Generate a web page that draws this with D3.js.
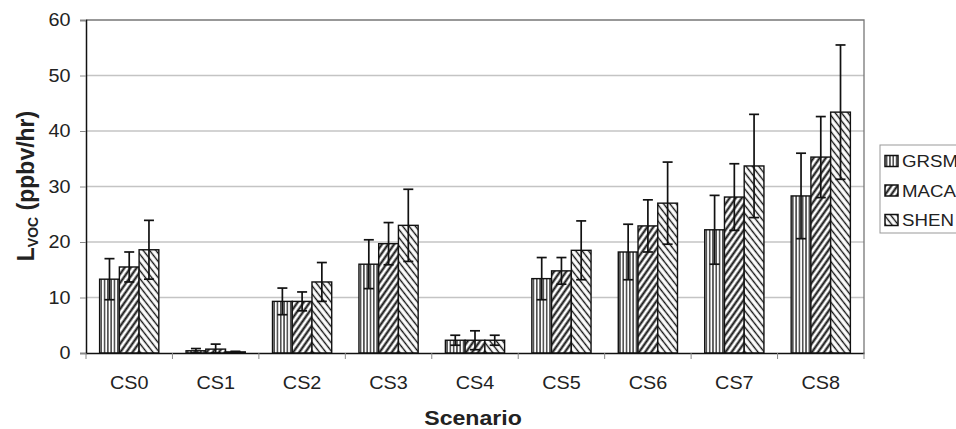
<!DOCTYPE html>
<html>
<head>
<meta charset="utf-8">
<script src="https://cdn.jsdelivr.net/npm/d3@7"></script>
<style>
  body { margin: 0; background: #fff; }
  svg { font-family: "Liberation Sans", Arial, sans-serif; }
</style>
</head>
<body>
<div id="chart"></div>
<script>
const categories = ["CS0", "CS1", "CS2", "CS3", "CS4", "CS5", "CS6", "CS7", "CS8"];
const seriesNames = ["GRSM", "MACA", "SHEN"];
const grsm = [13.3, 0.4, 9.3, 16.0, 2.3, 13.4, 18.2, 22.2, 28.3];
const maca = [15.5, 0.7, 9.3, 19.7, 2.3, 14.8, 22.9, 28.1, 35.3];
const shen = [18.6, 0.2, 12.8, 23.0, 2.3, 18.5, 27.0, 33.7, 43.4];
const grsmErr = [3.7, 0.4, 2.4, 4.4, 0.9, 3.8, 5.0, 6.2, 7.7];
const macaErr = [2.7, 0.9, 1.7, 3.8, 1.7, 2.4, 4.7, 6.0, 7.3];
const shenErr = [5.3, 0.1, 3.5, 6.5, 0.9, 5.3, 7.4, 9.3, 12.1];
const yTicks = [0, 10, 20, 30, 40, 50, 60];

const values = [grsm, maca, shen];
const errors = [grsmErr, macaErr, shenErr];

const width = 956, height = 429;
const margin = { top: 20, right: 92, bottom: 76, left: 86 };
const plotW = width - margin.left - margin.right;
const plotH = height - margin.top - margin.bottom;
const stretch = 'scale(1.1,1)'; // the picture's text is a bit wider than tall

const svg = d3.select('#chart').append('svg')
    .attr('width', width)
    .attr('height', height);

// hatch patterns
const defs = svg.append('defs');
const patternIds = ['pat-grsm', 'pat-maca', 'pat-shen'];

function makePattern(id, size, rotate, strokeW) {
    const p = defs.append('pattern')
        .attr('id', id)
        .attr('patternUnits', 'userSpaceOnUse')
        .attr('width', size)
        .attr('height', size)
        .attr('patternTransform', `rotate(${rotate})`);
    p.append('rect').attr('width', size).attr('height', size).attr('fill', '#fff');
    p.append('line')
        .attr('x1', size / 2).attr('y1', 0)
        .attr('x2', size / 2).attr('y2', size)
        .attr('stroke', '#111')
        .attr('stroke-width', strokeW);
}
makePattern(patternIds[0], 3.3, 0, 1.2);
makePattern(patternIds[1], 5, 35, 2.1);
makePattern(patternIds[2], 5, -38, 1.4);

const g = svg.append('g').attr('transform', `translate(${margin.left},${margin.top})`);

const x0 = d3.scaleBand().domain(categories).range([0, plotW]).paddingInner(0).paddingOuter(0);
const groupW = x0.bandwidth() * 0.685;
const x1 = d3.scaleBand().domain(seriesNames).range([0, groupW]).padding(0);
const y = d3.scaleLinear().domain([0, 60]).range([plotH, 0]);

// gridlines
g.selectAll('.grid')
    .data(yTicks.filter(t => t > 0 && t < 60))
    .enter().append('line')
    .attr('class', 'grid')
    .attr('x1', 0).attr('x2', plotW)
    .attr('y1', d => y(d)).attr('y2', d => y(d))
    .attr('stroke', '#c4c4c4')
    .attr('stroke-width', 1.3);

// plot border (top/right)
g.append('path')
    .attr('d', `M0,0H${plotW}V${plotH}`)
    .attr('fill', 'none')
    .attr('stroke', '#777')
    .attr('stroke-width', 1.3);

// bars
const groups = g.selectAll('.cat')
    .data(categories)
    .enter().append('g')
    .attr('class', 'cat')
    .attr('transform', d => `translate(${x0(d) + (x0.bandwidth() - groupW) / 2},0)`);

seriesNames.forEach((s, si) => {
    groups.append('rect')
        .attr('x', x1(s))
        .attr('y', (d, i) => y(values[si][i]))
        .attr('width', x1.bandwidth())
        .attr('height', (d, i) => plotH - y(values[si][i]))
        .attr('fill', `url(#${patternIds[si]})`)
        .attr('stroke', '#111')
        .attr('stroke-width', 1.4);
});

// error bars
seriesNames.forEach((s, si) => {
    const cx = x1(s) + x1.bandwidth() / 2;
    const hi = (d, i) => y(values[si][i] + errors[si][i]);
    const lo = (d, i) => y(Math.max(0, values[si][i] - errors[si][i]));
    const eb = groups.append('g').attr('class', 'err')
        .attr('stroke', '#111').attr('stroke-width', 1.7);
    eb.append('line').attr('x1', cx).attr('x2', cx).attr('y1', hi).attr('y2', lo);
    eb.append('line').attr('x1', cx - 5).attr('x2', cx + 5).attr('y1', hi).attr('y2', hi);
    eb.append('line').attr('x1', cx - 5).attr('x2', cx + 5).attr('y1', lo).attr('y2', lo);
});

// y axis
const yAxis = g.append('g')
    .call(d3.axisLeft(y).tickValues(yTicks).tickSize(6).tickPadding(8));
yAxis.select('.domain').attr('stroke', '#111').attr('stroke-width', 1.5);
yAxis.selectAll('.tick line').attr('stroke', '#888');
yAxis.selectAll('text')
    .attr('font-size', 18).attr('fill', '#222')
    .attr('font-family', '"Liberation Sans", Arial, sans-serif')
    .attr('transform', stretch);

// x axis with ticks at category boundaries
const xAxis = g.append('g').attr('transform', `translate(0,${plotH})`)
    .call(d3.axisBottom(x0).tickSize(0).tickPadding(23));
xAxis.select('.domain').attr('stroke', '#111').attr('stroke-width', 1.5);
xAxis.selectAll('text')
    .attr('font-size', 18).attr('fill', '#222')
    .attr('font-family', '"Liberation Sans", Arial, sans-serif')
    .attr('transform', stretch);
xAxis.selectAll('.bound')
    .data(d3.range(categories.length + 1))
    .enter().append('line')
    .attr('class', 'bound')
    .attr('x1', i => i * x0.step()).attr('x2', i => i * x0.step())
    .attr('y1', 0).attr('y2', 6)
    .attr('stroke', '#888');

// axis titles
svg.append('g')
    .attr('transform', `translate(${margin.left + plotW / 2 - 2},425) ${stretch}`)
    .append('text')
    .attr('text-anchor', 'middle')
    .attr('font-size', 21)
    .attr('font-weight', 'bold')
    .attr('fill', '#222')
    .text('Scenario');

const yTitle = svg.append('text')
    .attr('transform', `translate(34,186) rotate(-90)`)
    .attr('text-anchor', 'middle')
    .attr('font-size', 23)
    .attr('font-weight', 'bold')
    .attr('fill', '#222');
yTitle.append('tspan').text('L');
yTitle.append('tspan').attr('font-size', 14).attr('dy', 4).text('VOC');
yTitle.append('tspan').attr('dy', -4).text(' (ppbv/hr)');

// legend
const legend = svg.append('g').attr('transform', 'translate(880,145)');
legend.append('rect')
    .attr('width', 90).attr('height', 88)
    .attr('fill', '#fff')
    .attr('stroke', '#999');
seriesNames.forEach((s, si) => {
    const row = legend.append('g').attr('transform', `translate(5,${16 + si * 29.5})`);
    row.append('rect')
        .attr('x', 0).attr('y', -5.5)
        .attr('width', 13).attr('height', 11)
        .attr('fill', `url(#${patternIds[si]})`)
        .attr('stroke', '#111').attr('stroke-width', 1.5);
    row.append('g')
        .attr('transform', `translate(17,0) ${stretch}`)
        .append('text')
        .attr('dy', '0.36em')
        .attr('font-size', 17)
        .attr('fill', '#222')
        .text(s);
});
</script>
</body>
</html>
